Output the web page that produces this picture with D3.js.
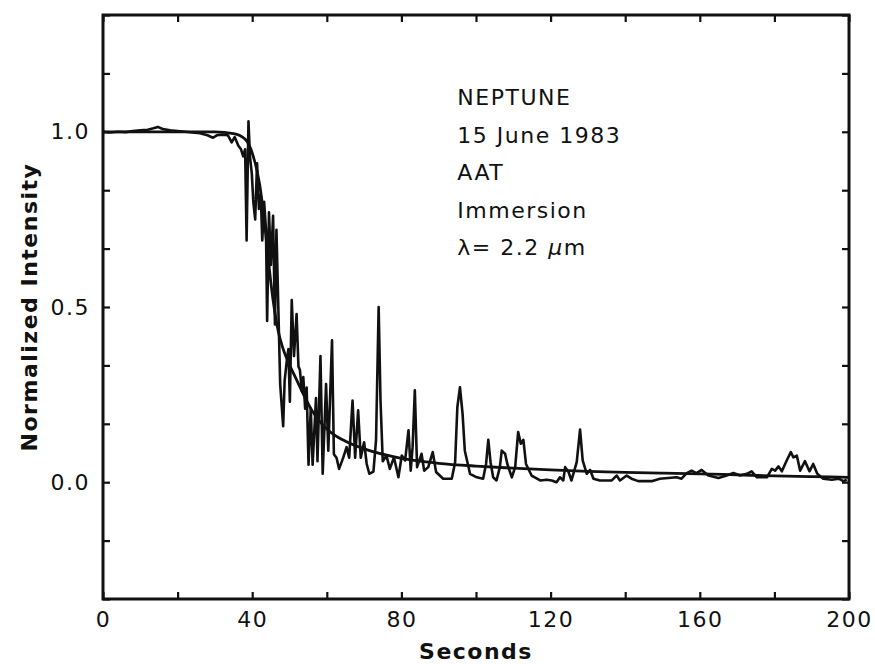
<!DOCTYPE html>
<html>
<head>
<meta charset="utf-8">
<script src="https://cdn.jsdelivr.net/npm/d3@7"></script>
<style>
  body { margin: 0; background: #fff; }
  text { font-family: "DejaVu Sans", sans-serif; fill: #111; }
</style>
</head>
<body>
<svg id="chart" width="875" height="664"></svg>
<script>
// observed light curve (seconds, normalized intensity)
const seconds = [0, 2, 4, 6, 8, 10, 12, 13.5, 14.7, 16, 18, 20, 22, 24, 26, 28, 29.5, 30.5, 32, 33.5,
  34.5, 35.3, 36.3, 37, 37.6, 38.1, 38.5, 39, 39.4, 39.9, 40.3, 40.8, 41.3, 41.8, 42.3, 42.7, 43.2, 43.7,
  44.0, 44.5, 45.0, 45.6, 46.1, 46.5, 47.0, 47.5, 47.9, 48.3, 48.7, 49.2, 49.7, 50.1, 50.6, 51.2, 51.9,
  52.4, 52.8, 53.3, 53.7, 54.2, 54.6, 55.1, 55.7, 56.2, 57.1, 57.5, 58.3, 58.9, 59.8, 60.4, 61.4, 61.9,
  62.6, 63.3, 64.4, 65.3, 66.0, 66.9, 67.6, 68.4, 69.1, 70.0, 70.7, 71.4, 72.5, 73.2, 73.9, 74.4, 75.0,
  76.0, 76.9, 78.0, 79.2, 80.1, 81.0, 81.9, 82.5, 83.0, 83.6, 84.2, 85.4, 86.1, 87.2, 88.4, 89.3, 91.2,
  93.5, 94.4, 95.0, 95.7, 96.4, 97.0, 98.4, 100.2, 101.9, 102.7, 103.3, 103.9, 104.6, 105.5, 106.4,
  106.9, 107.8, 108.4, 109.6, 110.5, 111.3, 112.0, 112.7, 113.4, 114.9, 117.2, 119.0, 120.3, 121.6,
  122.5, 123.4, 123.9, 124.8, 125.6, 127.0, 127.9, 128.6, 129.7, 130.6, 131.5, 133.2, 136.4, 137.7,
  138.6, 140.4, 141.7, 143.5, 147.1, 149.3, 153.8, 155.1, 156.5, 157.8, 159.1, 160.5, 162.3, 165.0,
  167.2, 169.0, 170.8, 172.6, 173.9, 175.3, 178.0, 179.3, 180.2, 181.1, 182.0, 183.3, 184.4, 185.1,
  186.0, 186.9, 188.2, 189.4, 190.4, 191.5, 193.1, 195.4, 197.2, 198.5, 199.4];
const intensity = [1.0, 0.998, 1.0, 0.999, 1.002, 1.004, 1.006, 1.01, 1.014, 1.008, 1.004, 1.002, 1.0,
  0.998, 0.996, 0.99, 0.983, 0.99, 0.992, 0.99,
  0.97, 0.985, 0.96, 0.95, 0.93, 0.95, 0.69, 1.03, 0.93, 0.88, 0.80, 0.75, 0.91, 0.78, 0.82, 0.69, 0.80, 0.72,
  0.46, 0.77, 0.62, 0.76, 0.45, 0.72, 0.50, 0.28, 0.22, 0.16, 0.29, 0.34, 0.38, 0.23, 0.52, 0.36, 0.48,
  0.33, 0.32, 0.26, 0.30, 0.21, 0.27, 0.05, 0.21, 0.05, 0.24, 0.06, 0.36, 0.024, 0.28, 0.09, 0.405, 0.08,
  0.07, 0.038, 0.07, 0.10, 0.07, 0.233, 0.07, 0.205, 0.07, 0.114, 0.052, 0.024, 0.03, 0.12, 0.50, 0.233, 0.06,
  0.076, 0.038, 0.071, 0.014, 0.076, 0.062, 0.148, 0.033, 0.10, 0.262, 0.043, 0.081, 0.033, 0.043, 0.086, 0.029, 0.01,
  0.01, 0.057, 0.214, 0.271, 0.195, 0.09, 0.024, 0.014, 0.01, 0.052, 0.121, 0.057, 0.014, 0.005, 0.043,
  0.09, 0.081, 0.052, 0.014, 0.043, 0.143, 0.11, 0.121, 0.052, 0.019, 0.005, 0.007, 0.005, 0.0,
  0.014, 0.005, 0.043, 0.029, 0.005, 0.057, 0.15, 0.062, 0.024, 0.035, 0.01, 0.005, 0.005, 0.019,
  0.005, 0.019, 0.01, 0.003, 0.003, 0.01, 0.014, 0.01, 0.026, 0.033, 0.026, 0.035, 0.019, 0.012,
  0.019, 0.026, 0.019, 0.024, 0.031, 0.014, 0.014, 0.038, 0.033, 0.045, 0.031, 0.062, 0.086, 0.071,
  0.076, 0.033, 0.06, 0.031, 0.052, 0.024, 0.01, 0.007, 0.01, 0.003, 0.007];

// smooth model fit
const modelSeconds = [0, 30, 35, 38, 40, 42, 43, 44, 45, 46, 47, 48, 49, 50, 52, 54, 56, 58, 60, 62, 65,
  70, 75, 80, 85, 90, 100, 110, 120, 130, 140, 150, 160, 170, 180, 190, 200];
const modelIntensity = [1.0, 1.0, 0.995, 0.98, 0.94, 0.85, 0.77, 0.67, 0.57, 0.49, 0.43, 0.39, 0.36, 0.335,
  0.29, 0.245, 0.205, 0.175, 0.152, 0.135, 0.117, 0.095, 0.08, 0.068, 0.06, 0.054, 0.046, 0.04, 0.035,
  0.031, 0.028, 0.026, 0.024, 0.021, 0.018, 0.016, 0.014];

const xTicks = d3.range(0, 201, 20);
const xLabelled = [0, 40, 80, 120, 160, 200];
const yTicks = d3.range(-2, 9).map((k) => k / 6);
const yLabelled = [0, 0.5, 1.0];
const notes = ["NEPTUNE", "15 June 1983", "AAT", "Immersion"];

const svg = d3.select("#chart"),
  margin = { top: 15, right: 26, bottom: 65, left: 103 },
  width = +svg.attr("width") - margin.left - margin.right,
  height = +svg.attr("height") - margin.top - margin.bottom;

const chart = svg.append("g").attr("transform", `translate(${margin.left},${margin.top})`);

const x = d3.scaleLinear().domain([0, 200]).range([0, width]);
const y = d3.scaleLinear().domain([-1 / 3, 4 / 3]).range([height, 0]);

const close = (a, list) => list.some((b) => Math.abs(a - b) < 1e-6);

function styleAxis(g) {
  g.select(".domain").remove();
  g.selectAll(".tick line").attr("stroke", "#111").attr("stroke-width", 2.2);
  g.selectAll(".tick text")
    .attr("font-size", 22)
    .attr("letter-spacing", 1.5)
    .style("fill", "#111");
}

chart.append("g")
  .attr("transform", `translate(0,${height})`)
  .call(d3.axisBottom(x).tickValues(xTicks).tickSizeInner(-7).tickSizeOuter(0).tickPadding(12)
    .tickFormat((d) => (close(d, xLabelled) ? d : "")))
  .call(styleAxis);

chart.append("g")
  .call(d3.axisTop(x).tickValues(xTicks).tickSizeInner(-7).tickSizeOuter(0).tickFormat(""))
  .call(styleAxis);

chart.append("g")
  .call(d3.axisLeft(y).tickValues(yTicks).tickSizeInner(-7).tickSizeOuter(0).tickPadding(13)
    .tickFormat((d) => (close(d, yLabelled) ? d3.format(".1f")(d) : "")))
  .call(styleAxis);

chart.append("g")
  .attr("transform", `translate(${width},0)`)
  .call(d3.axisRight(y).tickValues(yTicks).tickSizeInner(-7).tickSizeOuter(0).tickFormat(""))
  .call(styleAxis);

chart.append("rect")
  .attr("width", width)
  .attr("height", height)
  .attr("fill", "none")
  .attr("stroke", "#111")
  .attr("stroke-width", 3);

const line = d3.line().x((d) => x(d[0])).y((d) => y(d[1]));

chart.append("path")
  .datum(d3.zip(modelSeconds, modelIntensity))
  .attr("fill", "none")
  .attr("stroke", "#111")
  .attr("stroke-width", 2.8)
  .attr("d", line.curve(d3.curveMonotoneX));

chart.append("path")
  .datum(d3.zip(seconds, intensity))
  .attr("fill", "none")
  .attr("stroke", "#111")
  .attr("stroke-width", 2.6)
  .attr("stroke-linejoin", "round")
  .attr("d", line.curve(d3.curveLinear));

// annotation block
const note = chart.append("g").attr("transform", `translate(${x(95)},0)`);
notes.forEach((t, i) => {
  note.append("text")
    .attr("y", 90 + i * 37.5)
    .attr("font-size", 22)
    .attr("letter-spacing", 1.5)
    .text(t);
});
const lam = note.append("text")
  .attr("y", 90 + 4 * 37.5)
  .attr("font-size", 22)
  .attr("letter-spacing", 1.5);
lam.append("tspan").text("λ= 2.2 ");
lam.append("tspan").attr("font-style", "italic").text("μ");
lam.append("tspan").text("m");

chart.append("text")
  .attr("text-anchor", "middle")
  .attr("x", width / 2)
  .attr("y", height + 60)
  .attr("font-size", 22)
  .attr("font-weight", "bold")
  .attr("letter-spacing", 1.5)
  .text("Seconds");

chart.append("text")
  .attr("text-anchor", "middle")
  .attr("transform", "rotate(-90)")
  .attr("x", -height / 2)
  .attr("y", -66)
  .attr("font-size", 22)
  .attr("font-weight", "bold")
  .attr("letter-spacing", 1.5)
  .text("Normalized Intensity");
</script>
</body>
</html>
